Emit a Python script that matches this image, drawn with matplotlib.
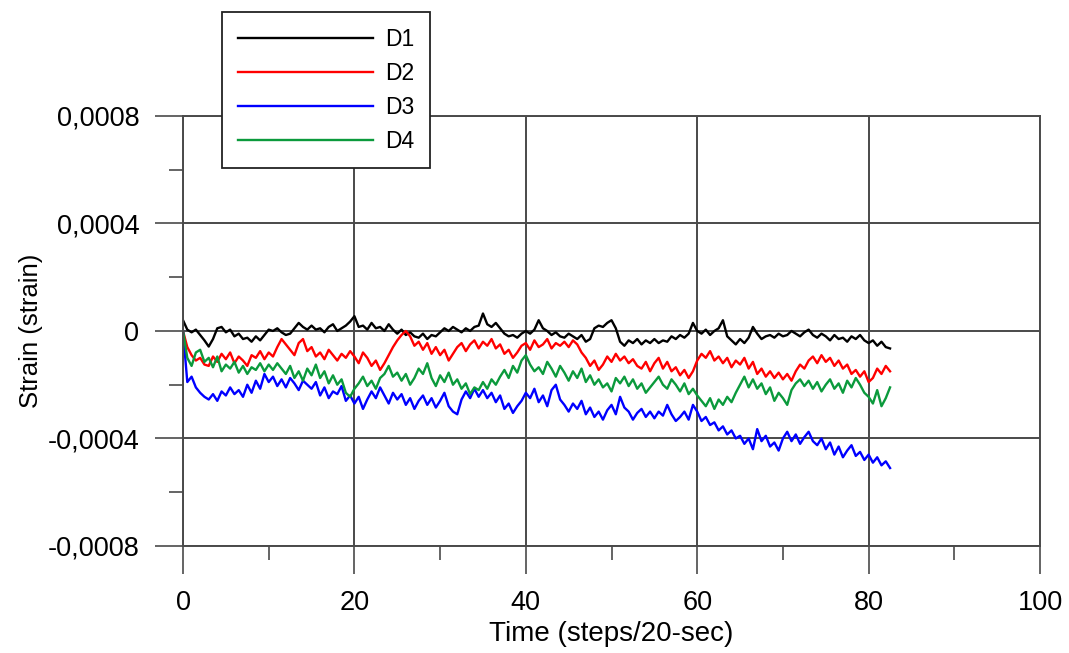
"""
Strain vs time for the four gauges D1-D4.
"""

import numpy as np
import matplotlib
matplotlib.use('Agg')
import matplotlib.pyplot as plt
from matplotlib.ticker import MultipleLocator, FuncFormatter

plt.rcParams['font.family'] = ['Liberation Sans', 'DejaVu Sans']

# time step between readings (steps/20-sec)
STEP = 0.5

# strain readings in microstrain, one value every 0.5 step
d1 = [40, 5, -5, 5, -15, -35, -58, -30, 10, 15,
      -5, 5, -20, -10, -30, -25, -40, -20, -35, -15,
      5, 0, 10, -5, -15, -10, 10, 30, 15, 5,
      20, 5, 10, -5, 15, 25, 0, 10, 20, 35,
      55, 15, 20, 5, 30, 10, 15, 0, 25, 5,
      -10, 5, -15, -5, -20, -25, -10, -30, -15, -20,
      -5, 10, 0, 15, 5, -5, 10, 0, 15, 20,
      65, 25, 15, 30, 10, -10, -20, -15, -25, -10,
      0, -10, 5, 40, 10, 0, -15, -5, -20, -25,
      -10, -20, -30, -15, -40, -30, 10, 20, 15, 30,
      40, 10, -40, -55, -35, -45, -30, -50, -35, -45,
      -30, -45, -35, -40, -20, -30, -15, -25, -10, 30,
      0, -10, 5, -15, 0, 10, 40, -20, -35, -50,
      -30, -45, -25, 15, -10, -30, -20, -15, -25, -10,
      -20, -15, 0, -10, -20, -5, 5, -15, -25, -10,
      -20, -35, -15, -30, -25, -40, -20, -30, -15, -35,
      -45, -35, -55, -40, -60, -65]

d2 = [0, -60, -90, -110, -100, -125, -130, -95, -115, -85,
      -105, -80, -120, -95, -110, -130, -90, -100, -75, -105,
      -80, -95, -60, -30, -50, -70, -90, -45, -30, -75,
      -60, -95, -80, -105, -70, -90, -110, -85, -100, -75,
      -95, -120, -80, -100, -130, -110, -145, -120, -90, -60,
      -35, -15, 0, -20, -55, -40, -70, -45, -85, -60,
      -90, -70, -110, -85, -60, -45, -75, -50, -35, -65,
      -40, -55, -30, -65, -50, -85, -70, -100, -80, -55,
      -45, -70, -35, -60, -50, -30, -65, -45, -55, -40,
      -60, -35, -50, -80, -100, -130, -110, -145, -125, -95,
      -115, -85, -110, -95, -120, -105, -130, -140, -115, -150,
      -120, -100, -140, -115, -150, -135, -165, -145, -175, -150,
      -110, -85, -100, -75, -110, -95, -120, -100, -135, -110,
      -125, -100, -140, -115, -160, -140, -170, -150, -175, -155,
      -180, -160, -185, -150, -125, -140, -110, -95, -120, -90,
      -115, -100, -130, -110, -140, -125, -160, -145, -170, -150,
      -190, -175, -140, -160, -130, -150]

d3 = [0, -190, -170, -210, -230, -245, -255, -235, -260, -225,
      -240, -210, -235, -220, -245, -200, -230, -185, -215, -160,
      -190, -170, -205, -180, -210, -175, -195, -220, -185, -200,
      -215, -190, -240, -210, -250, -225, -235, -205, -260, -240,
      -270, -245, -290, -255, -225, -250, -210, -240, -270, -230,
      -255, -235, -275, -250, -290, -260, -240, -275, -250, -285,
      -260, -230, -280, -300, -310, -255, -225, -250, -215, -245,
      -220, -250, -230, -265, -240, -290, -270, -305, -280, -260,
      -230, -250, -215, -265, -240, -280, -220, -200, -255, -275,
      -300, -270, -290, -260, -310, -285, -320, -300, -330, -295,
      -275, -310, -245, -285, -300, -330, -305, -290, -320, -300,
      -325, -300, -315, -275, -310, -335, -320, -300, -330, -275,
      -300, -335, -320, -350, -340, -370, -355, -385, -370, -400,
      -390, -420, -400, -440, -365, -410, -390, -430, -415, -445,
      -400, -375, -410, -385, -420, -395, -375, -410, -425, -400,
      -440, -415, -460, -430, -470, -445, -425, -465, -450, -480,
      -460, -490, -470, -500, -485, -510]

d4 = [0, -100, -130, -80, -70, -115, -100, -135, -95, -150,
      -125, -140, -115, -155, -130, -160, -135, -145, -120, -150,
      -125, -145, -120, -140, -160, -130, -175, -150, -185, -140,
      -165, -125, -175, -150, -195, -165, -200, -180, -230, -245,
      -215, -195, -170, -205, -185, -215, -175, -160, -130, -170,
      -155, -185, -160, -200, -175, -140, -160, -120, -175, -205,
      -165, -190, -155, -200, -180, -215, -195, -235, -210, -220,
      -190, -215, -180, -200, -170, -145, -175, -130, -155, -110,
      -90, -125, -150, -135, -160, -115, -140, -170, -130, -155,
      -185, -150, -175, -140, -190, -165, -200, -180, -210, -195,
      -225, -175, -195, -170, -205, -180, -215, -195, -230, -210,
      -190, -170, -200, -215, -180, -200, -225, -195, -235, -215,
      -240, -260, -280, -250, -290, -255, -275, -245, -265, -230,
      -200, -170, -210, -180, -215, -195, -235, -210, -260, -230,
      -250, -275, -220, -195, -180, -205, -185, -215, -190, -225,
      -200, -180, -215, -195, -230, -185, -210, -175, -200, -230,
      -245, -270, -220, -280, -250, -210]

labels = ['D1', 'D2', 'D3', 'D4']
colors = ['#000000', '#ff0000', '#0000ff', '#0b9a3c']

GRID = '#4a4a4a'


def comma_fmt(v, pos):
    # Portuguese style decimal comma
    if abs(v) < 1e-12:
        return '0'
    return f'{v:.4f}'.replace('.', ',')


def plot_strain(series, output='out.png'):
    fig = plt.figure(figsize=(10.69, 6.53), dpi=100)
    ax = fig.add_axes([0.1712, 0.1639, 0.8017, 0.6585])

    for values, name, color in zip(series, labels, colors):
        y = np.array(values) * 1e-6
        t = np.arange(len(y)) * STEP
        ax.plot(t, y, color=color, linewidth=1.7, label=name)

    ax.set_xlim(0, 100)
    ax.set_ylim(-0.0008, 0.0008)
    ax.xaxis.set_major_locator(MultipleLocator(20))
    ax.xaxis.set_minor_locator(MultipleLocator(10))
    ax.yaxis.set_major_locator(MultipleLocator(0.0004))
    ax.yaxis.set_minor_locator(MultipleLocator(0.0002))
    ax.yaxis.set_major_formatter(FuncFormatter(comma_fmt))

    ax.grid(True, which='major', color=GRID, linewidth=1.4)
    ax.set_axisbelow(True)
    for sp in ax.spines.values():
        sp.set_color(GRID)
        sp.set_linewidth(1.4)

    ax.tick_params(which='major', direction='out', length=20.5, width=1.2,
                   color=GRID, labelsize=19.5, pad=11)
    ax.tick_params(which='minor', direction='out', length=10, width=1.2,
                   color=GRID)

    ax.set_xlabel('Time (steps/20-sec)', fontsize=20, labelpad=4)
    ax.set_ylabel('Strain (strain)', fontsize=18.5, labelpad=3)

    leg = fig.legend(loc='upper left', bbox_to_anchor=(0.2077, 0.9816),
                     borderaxespad=0, fontsize=16.5, handlelength=5.9,
                     labelspacing=0.48, borderpad=0.68, handletextpad=0.55,
                     fancybox=False, framealpha=1.0, edgecolor='#222222')
    leg.get_frame().set_linewidth(1.3)

    fig.savefig(output, dpi=100)
    plt.close(fig)


plot_strain([d1, d2, d3, d4])
